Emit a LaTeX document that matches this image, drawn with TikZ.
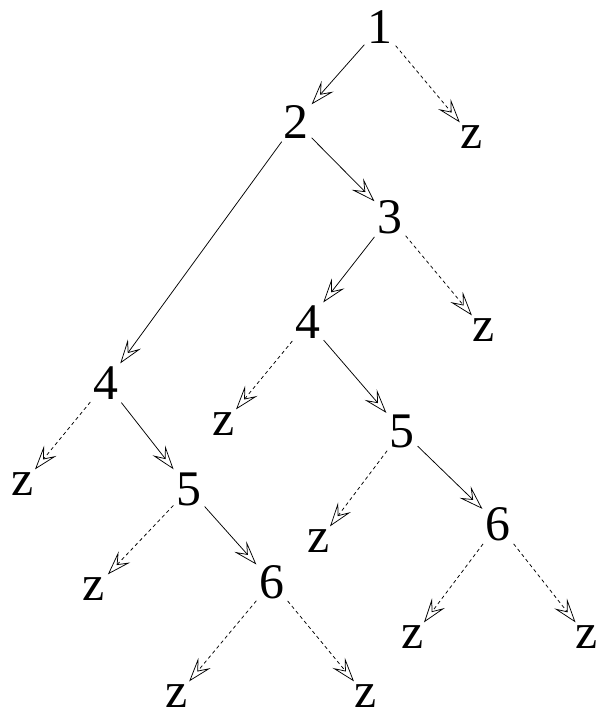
\documentclass[tikz,border=0pt]{standalone}
\usepackage{fontspec}
\setmainfont{Liberation Serif}
\usetikzlibrary{arrows.meta}
\begin{document}
\begin{tikzpicture}[x=1bp,y=-1bp,
  lbl/.style={inner sep=3bp,font=\fontsize{50}{50}\selectfont},
  solidedge/.style={line width=0.75bp,-{Stealth[open,length=24bp,width=16bp,inset=10bp]}},
  dashedge/.style={line width=0.75bp,dash pattern=on 3.5bp off 3bp,-{Stealth[open,length=24bp,width=16bp,inset=10bp]}}]
\useasboundingbox (0,0) rectangle (598,711);
\node[lbl] (n1) at (380,27) {1};
\node[lbl] (z1) at (472,137) {z};
\node[lbl] (n2) at (296,122) {2};
\node[lbl] (n3) at (390,217) {3};
\node[lbl] (z3) at (484,330) {z};
\node[lbl] (m4) at (308,322) {4};
\node[lbl] (zm4) at (224,424) {z};
\node[lbl] (m5) at (402,431) {5};
\node[lbl] (zm5) at (319,541) {z};
\node[lbl] (m6) at (498,524) {6};
\node[lbl] (zm6a) at (413,637) {z};
\node[lbl] (zm6b) at (587,637) {z};
\node[lbl] (l4) at (106,383) {4};
\node[lbl] (zl4) at (23,484) {z};
\node[lbl] (l5) at (189,489) {5};
\node[lbl] (zl5) at (94,589) {z};
\node[lbl] (l6) at (272,582) {6};
\node[lbl] (zl6a) at (177,696) {z};
\node[lbl] (zl6b) at (366,696) {z};
\draw[solidedge] (n1) -- (n2);
\draw[dashedge] (n1) -- (z1);
\draw[solidedge] (n2) -- (n3);
\draw[solidedge] (n2) -- (l4);
\draw[solidedge] (n3) -- (m4);
\draw[dashedge] (n3) -- (z3);
\draw[dashedge] (m4) -- (zm4);
\draw[solidedge] (m4) -- (m5);
\draw[dashedge] (m5) -- (zm5);
\draw[solidedge] (m5) -- (m6);
\draw[dashedge] (m6) -- (zm6a);
\draw[dashedge] (m6) -- (zm6b);
\draw[dashedge] (l4) -- (zl4);
\draw[solidedge] (l4) -- (l5);
\draw[dashedge] (l5) -- (zl5);
\draw[solidedge] (l5) -- (l6);
\draw[dashedge] (l6) -- (zl6a);
\draw[dashedge] (l6) -- (zl6b);
\end{tikzpicture}
\end{document}
